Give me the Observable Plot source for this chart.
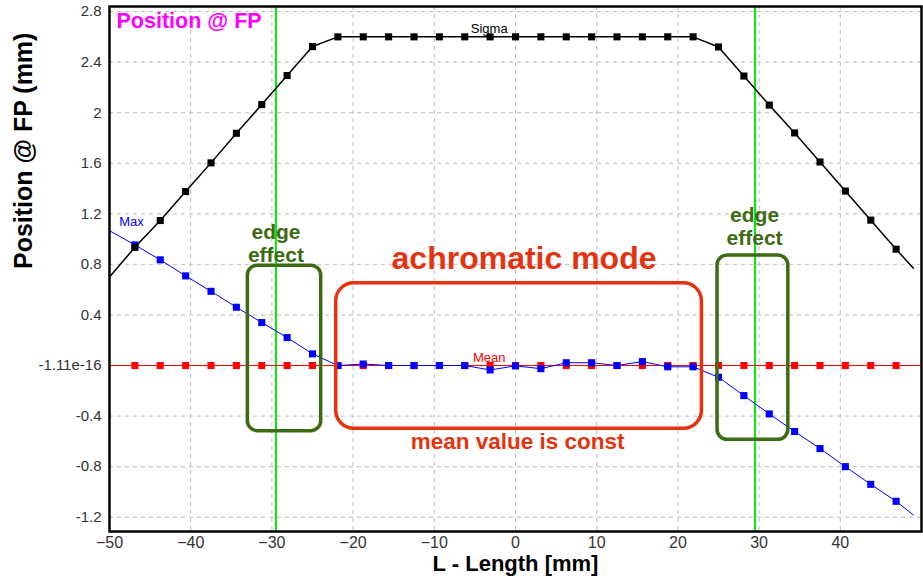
<!DOCTYPE html>
<html>
<head>
<meta charset="utf-8">
<script src="https://cdn.jsdelivr.net/npm/d3@7"></script>
<script src="https://cdn.jsdelivr.net/npm/@observablehq/plot@0.6"></script>
<style>
  html, body { margin: 0; padding: 0; background: #fff; }
  #chart { width: 923px; height: 583px; }
</style>
</head>
<body>
<div id="chart"></div>
<script>
// ---- data ----
const lengthX = [-50, -46.875, -43.75, -40.625, -37.5, -34.375, -31.25, -28.125, -25,
  -21.875, -18.75, -15.625, -12.5, -9.375, -6.25, -3.125, 0, 3.125, 6.25, 9.375, 12.5,
  15.625, 18.75, 21.875, 25, 28.125, 31.25, 34.375, 37.5, 40.625, 43.75, 46.875, 49];
const sigmaValues = [0.70, 0.935, 1.147, 1.376, 1.603, 1.837, 2.064, 2.294, 2.523,
  2.6, 2.6, 2.6, 2.6, 2.6, 2.6, 2.6, 2.6, 2.6, 2.6, 2.6, 2.6, 2.6, 2.6, 2.6,
  2.52, 2.29, 2.06, 1.84, 1.61, 1.38, 1.15, 0.92, 0.77];
const maxValues = [1.067, 0.954, 0.836, 0.709, 0.587, 0.461, 0.340, 0.221, 0.092,
  0.0, 0.012, 0.0, 0.0, 0.0, 0.0, -0.035, -0.003, -0.025, 0.022, 0.022, 0.0, 0.031,
  -0.01, -0.01, -0.093, -0.238, -0.383, -0.522, -0.657, -0.80, -0.94, -1.074, -1.182];
const meanX = [-50, -46.875, -43.75, -40.625, -37.5, -34.375, -31.25, -28.125, -25,
  -21.875, -18.75, -15.625, -12.5, -9.375, -6.25, -3.125, 0, 3.125, 6.25, 9.375, 12.5,
  15.625, 18.75, 21.875, 25, 28.125, 31.25, 34.375, 37.5, 40.625, 43.75, 46.875, 50];
const meanValues = [0, 0, 0, 0, 0, 0, 0, 0, 0, 0, 0, 0, 0, 0, 0, 0, 0, 0, 0, 0, 0,
  0, 0, 0, 0, 0, 0, 0, 0, 0, 0, 0, 0];
const xTicks = [-50, -40, -30, -20, -10, 0, 10, 20, 30, 40];
const yTicks = [-1.2, -0.8, -0.4, 0, 0.4, 0.8, 1.2, 1.6, 2, 2.4, 2.8];
const edgeLines = [-29.5, 29.5];

// annotations (data coordinates)
const greenBoxes = [
  {x1: -32.96, x2: -23.93, y1: -0.52, y2: 0.79},
  {x1: 24.88, x2: 33.6, y1: -0.588, y2: 0.87}
];
const redBoxes = [{x1: -22.08, x2: 22.96, y1: -0.501, y2: 0.65}];
const greenNotes = [
  {x: -29.5, y: 0.968, text: "edge\neffect"},
  {x: 29.44, y: 1.103, text: "edge\neffect"}
];
const seriesLabels = [
  {x: -3.24, y: 2.662, text: "Sigma", color: "#000000"},
  {x: -47.3, y: 1.14, text: "Max", color: "#0000ff"},
  {x: -3.24, y: 0.059, text: "Mean", color: "#ff0000"}
];

// ---- tables ----
const sigma = lengthX.map((x, i) => ({x, y: sigmaValues[i]}));
const maxS = lengthX.map((x, i) => ({x, y: maxValues[i]}));
const mean = meanX.map((x, i) => ({x, y: meanValues[i]}));
const inner = d => d.slice(1, -1);

const GREEN = "#3c6b12";
const RED = "#e5330f";

const chart = Plot.plot({
  width: 923,
  height: 583,
  marginLeft: 109,
  marginRight: 2,
  marginTop: 6,
  marginBottom: 52,
  style: {fontFamily: "'Liberation Sans', Arial, sans-serif", fontSize: "15px", background: "#fff"},
  x: {domain: [-50, 50]},
  y: {domain: [-1.313, 2.84]},
  marks: [
    Plot.gridX(xTicks.slice(1), {stroke: "#bdbdbd", strokeOpacity: 1, strokeDasharray: "4,4"}),
    Plot.gridY(yTicks, {stroke: "#bdbdbd", strokeOpacity: 1, strokeDasharray: "4,4"}),
    Plot.axisX(xTicks, {tickSize: 0, tickPadding: 5, fontSize: 16, fill: "#333", label: null}),
    Plot.axisY(yTicks, {tickSize: 0, tickPadding: 8, fontSize: 15, fill: "#333", label: null,
      tickFormat: d => Math.abs(d) < 1e-9 ? "-1.11e-16" : String(d)}),
    Plot.ruleX(edgeLines, {stroke: "#00ee00", strokeWidth: 2}),
    // Mean (red)
    Plot.line(mean, {x: "x", y: "y", stroke: "#ff0000", strokeWidth: 1}),
    Plot.dot(inner(mean), {x: "x", y: "y", symbol: "square", r: 4, fill: "#ff0000"}),
    // Max (blue)
    Plot.line(maxS, {x: "x", y: "y", stroke: "#0000ff", strokeWidth: 1}),
    Plot.dot(inner(maxS), {x: "x", y: "y", symbol: "square", r: 4, fill: "#0000ff"}),
    // Sigma (black)
    Plot.line(sigma, {x: "x", y: "y", stroke: "#000", strokeWidth: 1.5}),
    Plot.dot(inner(sigma), {x: "x", y: "y", symbol: "square", r: 4, fill: "#000"}),
    Plot.text(seriesLabels, {x: "x", y: "y", text: "text", fill: "color", fontSize: 13}),
    // annotations
    Plot.rect(greenBoxes, {x1: "x1", x2: "x2", y1: "y1", y2: "y2", fill: "none", stroke: GREEN, strokeWidth: 3.5, rx: 10}),
    Plot.rect(redBoxes, {x1: "x1", x2: "x2", y1: "y1", y2: "y2", fill: "none", stroke: RED, strokeWidth: 3.5, rx: 18}),
    Plot.text(greenNotes, {x: "x", y: "y", text: "text", fill: GREEN, fontSize: 21, fontWeight: "bold", lineHeight: 1.1}),
    Plot.text(["achromatic mode"], {x: 1.05, y: 0.846, text: d => d, fill: RED, fontSize: 32, fontWeight: "bold"}),
    Plot.text(["mean value is const"], {x: 0.27, y: -0.603, text: d => d, fill: RED, fontSize: 22.5, fontWeight: "bold"}),
    // titles
    Plot.text(["Position @ FP"], {frameAnchor: "top-left", text: d => d, textAnchor: "start", lineAnchor: "top", dx: 7, dy: 6, fill: "#ff00ff", fontSize: 21.5, fontWeight: "bold"}),
    Plot.text(["L - Length [mm]"], {frameAnchor: "bottom", text: d => d, dy: 39, fill: "#000", fontSize: 22, fontWeight: "bold"}),
    Plot.text(["Position @ FP (mm)"], {frameAnchor: "left", text: d => d, rotate: -90, dx: -86, fill: "#000", fontSize: 25, fontWeight: "bold"}),
    Plot.frame({stroke: "#000", strokeWidth: 2.5})
  ]
});
document.getElementById("chart").appendChild(chart);
</script>
</body>
</html>
